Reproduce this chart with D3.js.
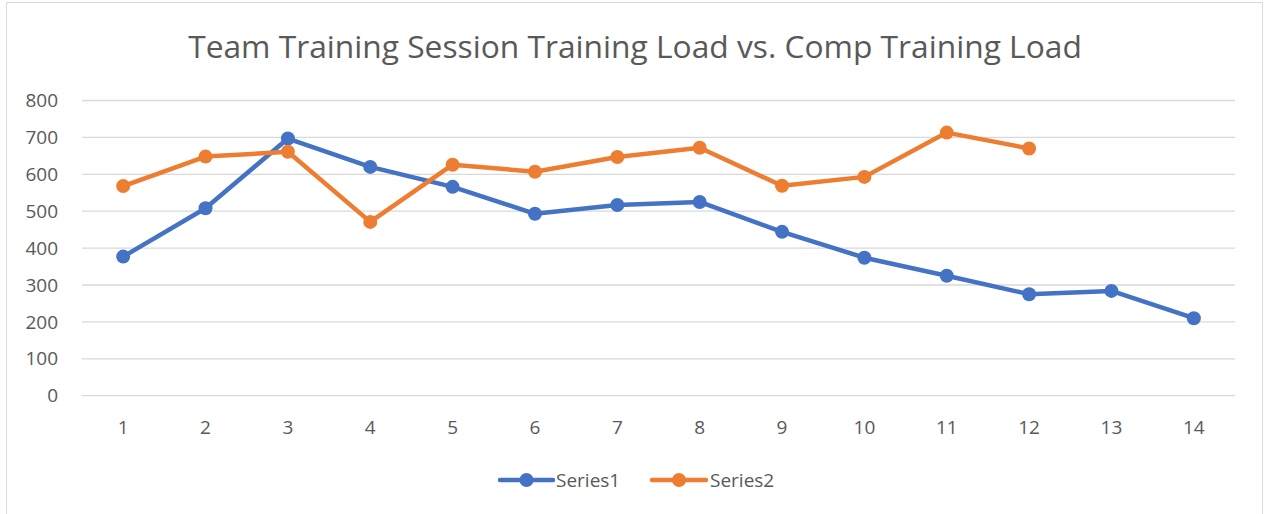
<!DOCTYPE html>
<html><head><meta charset="utf-8">
<script src="https://cdn.jsdelivr.net/npm/d3@7"></script>
<style>body{margin:0;background:#fff;font-family:"Open Sans",sans-serif;}</style>
</head><body><svg id="c" width="1265" height="514"></svg>
<script>
const title = "Team Training Session Training Load vs. Comp Training Load";
const categories = [1,2,3,4,5,6,7,8,9,10,11,12,13,14];
const series1 = [377,508,697,620,566,493,517,525,444,374,325,275,284,210];
const series2 = [568,648,661,471,626,607,647,672,569,593,713,670];
const yTicks = [0,100,200,300,400,500,600,700,800];
const seriesNames = ["Series1","Series2"];
const colors = ["#4472C4","#ED7D31"];

(function(){
const svg = d3.select("#c");
svg.append("rect").attr("x",6.5).attr("y",2.5).attr("width",1256).attr("height",520)
  .attr("fill","#fff").attr("stroke","#d9d9d9").attr("stroke-width",1);

const pL=82, pR=1235, pT=100.5, pB=395.7;
const x = d3.scalePoint().domain(categories).range([pL,pR]).padding(0.5);
const y = d3.scaleLinear().domain([0,800]).range([pB,pT]);

function fit(sel, target, base){
  const w = sel.node().getComputedTextLength();
  return base*target/w;
}

const t = svg.append("text").attr("x",(188+1082)/2).attr("y",58).attr("text-anchor","middle")
  .attr("fill","#595959").attr("font-size",30).text(title);
t.attr("font-size",fit(t,894,30));

const probe = svg.append("text").attr("font-size",16).text("800");
const tickFs = Math.min(fit(probe,35,16),19);
probe.remove();

const gy = svg.append("g");
gy.selectAll("line").data(yTicks).join("line")
  .attr("x1",pL).attr("x2",pR).attr("y1",d=>y(d)).attr("y2",d=>y(d))
  .attr("stroke","#d9d9d9").attr("stroke-width",1.3);
gy.selectAll("text").data(yTicks).join("text")
  .attr("x",58).attr("y",d=>y(d)).attr("dy","0.35em").attr("text-anchor","end")
  .attr("fill","#595959").attr("font-size",tickFs).text(d=>d);

svg.append("g").selectAll("text").data(categories).join("text")
  .attr("x",d=>x(d)).attr("y",427).attr("dy","0.35em").attr("text-anchor","middle")
  .attr("fill","#595959").attr("font-size",tickFs).text(d=>d);

const line = d3.line().x((d,i)=>x(categories[i])).y(d=>y(d));
[series1,series2].forEach((s,k)=>{
  svg.append("path").datum(s).attr("d",line).attr("fill","none")
    .attr("stroke",colors[k]).attr("stroke-width",4.5).attr("stroke-linejoin","round").attr("stroke-linecap","round");
  svg.append("g").selectAll("circle").data(s).join("circle")
    .attr("cx",(d,i)=>x(categories[i])).attr("cy",d=>y(d)).attr("r",7).attr("fill",colors[k]);
});

const lg = [{x0:500,x1:553,tx:556},{x0:652,x1:706,tx:710}];
lg.forEach((L,k)=>{
  svg.append("line").attr("x1",L.x0).attr("x2",L.x1).attr("y1",480).attr("y2",480)
    .attr("stroke",colors[k]).attr("stroke-width",4.5).attr("stroke-linecap","round");
  svg.append("circle").attr("cx",(L.x0+L.x1)/2).attr("cy",480).attr("r",7).attr("fill",colors[k]);
  const lt = svg.append("text").attr("x",L.tx).attr("y",480).attr("dy","0.35em").attr("fill","#595959")
    .attr("font-size",16).text(seriesNames[k]);
  lt.attr("font-size",Math.min(fit(lt,70,16),19));
});
})();
</script></body></html>
